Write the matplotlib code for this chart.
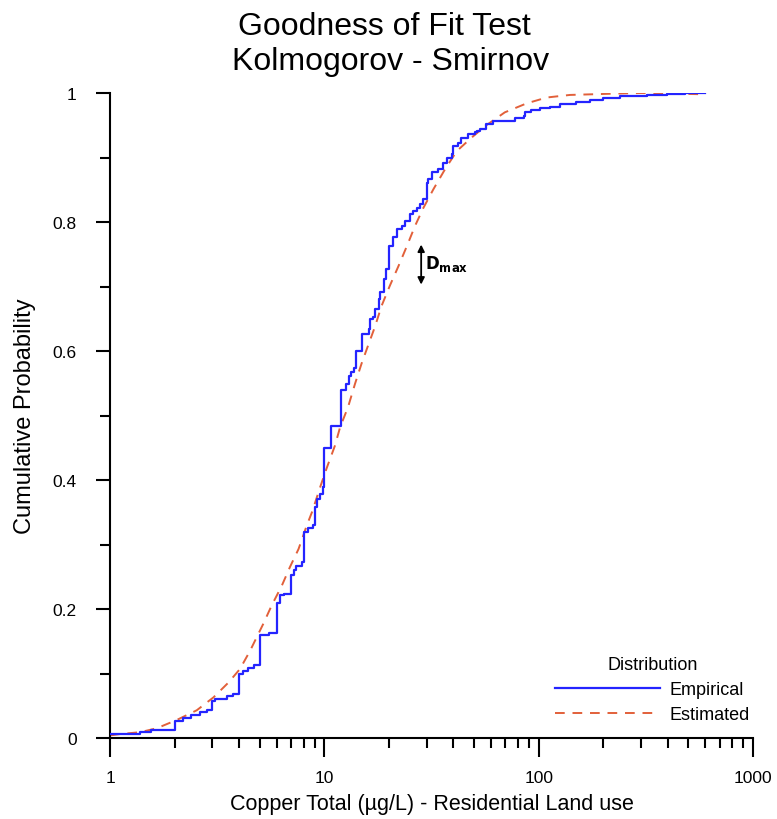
import matplotlib
matplotlib.use("Agg")
import matplotlib.pyplot as plt
from matplotlib.ticker import FixedLocator, NullFormatter, LogLocator

plt.rcParams['font.family'] = ['Liberation Sans', 'DejaVu Sans']

title_lines = ["Goodness of Fit Test", "Kolmogorov - Smirnov"]
x_label = "Copper Total (µg/L) - Residential Land use"
y_label = "Cumulative Probability"
legend_title = "Distribution"
series_names = ["Empirical", "Estimated"]

# Empirical CDF: step positions (µg/L) and cumulative probability after each step
emp_x = [1.0, 1.38, 1.56, 2.0, 2.2, 2.4, 2.63, 2.83, 3.0, 3.1, 3.5, 3.76,
         4.0, 4.19, 4.4, 4.7, 5.0, 5.5, 6.0, 6.2, 6.5, 7.0, 7.2, 7.4, 7.9,
         8.0, 8.4, 8.88, 9.0, 9.2, 9.54, 9.9, 10.0, 10.8, 12.0, 12.6, 13.0,
         13.3, 13.7, 14.0, 15.0, 16.1, 16.4, 16.9, 17.2, 17.9, 18.2, 18.9,
         19.5, 20.0, 21.0, 21.8, 23.0, 23.8, 25.0, 26.0, 27.0, 28.0, 29.0,
         30.0, 30.6, 31.7, 34.0, 35.8, 37.2, 39.3, 40.0, 42.0, 43.6, 47.0,
         50.6, 51.5, 53.0, 57.0, 61.5, 77.7, 85.0, 86.5, 92.5, 101.6, 113.0,
         126.0, 150.0, 173.0, 200.0, 240.0, 320.0, 397.0, 480.0, 600.0]
emp_p = [0.006, 0.009, 0.013, 0.027, 0.031, 0.036, 0.040, 0.043, 0.058, 0.061,
         0.065, 0.068, 0.099, 0.104, 0.109, 0.113, 0.159, 0.163, 0.210, 0.221,
         0.224, 0.252, 0.260, 0.267, 0.273, 0.319, 0.326, 0.330, 0.358, 0.370,
         0.378, 0.389, 0.450, 0.484, 0.539, 0.549, 0.562, 0.567, 0.574, 0.600,
         0.626, 0.634, 0.650, 0.652, 0.665, 0.681, 0.691, 0.712, 0.727, 0.763,
         0.776, 0.789, 0.794, 0.802, 0.812, 0.817, 0.822, 0.828, 0.836, 0.861,
         0.867, 0.877, 0.882, 0.892, 0.900, 0.905, 0.918, 0.923, 0.931, 0.936,
         0.939, 0.941, 0.944, 0.952, 0.957, 0.962, 0.965, 0.970, 0.973, 0.976,
         0.979, 0.983, 0.9865, 0.989, 0.992, 0.995, 0.997, 0.998, 1.0, 1.0]

# Estimated (fitted) CDF
est_x = [1.0, 1.11, 1.38, 1.65, 2.05, 2.54, 3.04, 3.57, 4.04, 4.5, 5.19, 5.67,
         6.33, 6.91, 7.58, 8.27, 8.8, 9.54, 10.27, 11.2, 11.85, 12.9, 13.9,
         14.9, 16.1, 17.2, 18.5, 20.2, 22.2, 24.3, 26.5, 29.0, 32.3, 36.6,
         41.5, 48.7, 57.0, 69.5, 88.0, 109.0, 140.0, 225.0, 300.0, 600.0]
est_p = [0.004, 0.006, 0.009, 0.015, 0.028, 0.043, 0.063, 0.086, 0.107, 0.135,
         0.177, 0.205, 0.236, 0.265, 0.293, 0.329, 0.352, 0.388, 0.419, 0.453,
         0.482, 0.513, 0.549, 0.580, 0.611, 0.637, 0.670, 0.701, 0.732, 0.763,
         0.794, 0.822, 0.851, 0.882, 0.910, 0.931, 0.950, 0.970, 0.984, 0.993,
         0.997, 0.999, 1.0, 0.998]

y_ticks = [0, 0.2, 0.4, 0.6, 0.8, 1.0]
y_tick_labels = ["0", "0.2", "0.4", "0.6", "0.8", "1"]
x_ticks = [1, 10, 100, 1000]
x_tick_labels = ["1", "10", "100", "1000"]

W, H = 777, 820
fig = plt.figure(figsize=(W / 100, H / 100), dpi=100)
ax = fig.add_axes([110 / W, (H - 739) / H, 643 / W, 645 / H])

ax.plot(emp_x, emp_p, drawstyle='steps-post', color='#2424FF', lw=1.6,
        label=series_names[0], zorder=3)
ax.plot(est_x, est_p, color='#E2603A', lw=1.4, linestyle=(0, (5, 4)),
        label=series_names[1], zorder=2)

ax.set_xscale('log')
ax.set_xlim(1, 1000)
ax.set_ylim(0, 1)

for s in ['top', 'right']:
    ax.spines[s].set_visible(False)
for s in ['left', 'bottom']:
    ax.spines[s].set_linewidth(1.5)
    ax.spines[s].set_color('black')

ax.set_xticks(x_ticks)
ax.set_xticklabels(x_tick_labels)
ax.xaxis.set_minor_locator(LogLocator(base=10, subs=range(2, 10)))
ax.xaxis.set_minor_formatter(NullFormatter())
ax.set_yticks(y_ticks)
ax.set_yticklabels(y_tick_labels)
ax.yaxis.set_minor_locator(FixedLocator([0.1, 0.3, 0.5, 0.7, 0.9]))

ax.tick_params(axis='both', which='major', direction='out', length=14, width=1.5,
               labelsize=12.5, colors='black')
ax.tick_params(axis='x', which='major', pad=9)
ax.tick_params(axis='y', which='major', length=10, pad=14)
ax.tick_params(axis='both', which='minor', direction='out', length=7, width=1.5)

ax.set_xlabel(x_label, fontsize=15.5, labelpad=6)
ax.set_ylabel(y_label, fontsize=17, labelpad=12)

fig.text(0.495, 1 - 27 / H, title_lines[0], ha='center', va='center', fontsize=23)
fig.text(0.503, 1 - 62 / H, title_lines[1], ha='center', va='center', fontsize=23)

# D max annotation
ax.annotate('', xy=(28.3, 0.703), xytext=(28.3, 0.765),
            arrowprops=dict(arrowstyle='<|-|>', color='black', lw=1.3,
                            mutation_scale=10, shrinkA=0, shrinkB=0))
ax.text(29.6, 0.736, r'$\mathbf{D}_{\mathbf{max}}$', fontsize=12, ha='left',
        va='center', color='black')

leg = ax.legend(loc='lower right', bbox_to_anchor=(750 / W, (H - 724) / H),
                bbox_transform=fig.transFigure, frameon=False, fontsize=13,
                title=legend_title, title_fontsize=13, handlelength=5.8,
                handletextpad=0.55, labelspacing=0.45, borderpad=0,
                borderaxespad=0)

fig.savefig('out.png', dpi=100)
